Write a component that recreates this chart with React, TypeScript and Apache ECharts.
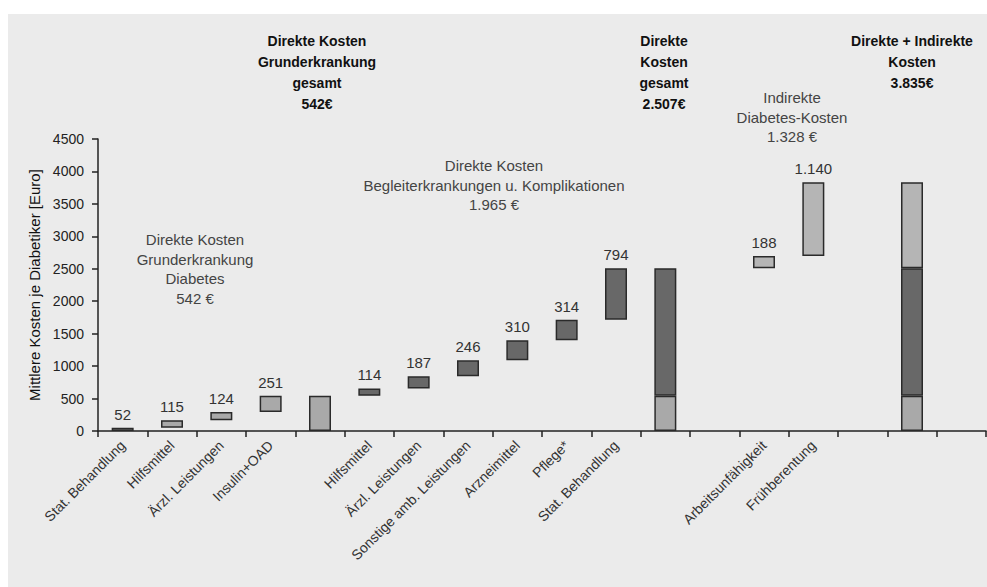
import React, { useEffect, useRef } from "react";
import * as echarts from "echarts";

const categories = [
  "Stat. Behandlung",
  "Hilfsmittel",
  "Ärzl. Leistungen",
  "Insulin+OAD",
  "",
  "Hilfsmittel",
  "Ärzl. Leistungen",
  "Sonstige amb. Leistungen",
  "Arzneimittel",
  "Pflege*",
  "Stat. Behandlung",
  "",
  "",
  "Arbeitsunfähigkeit",
  "Frühberentung",
  "",
  "",
  "",
];

const grundValues = [52, 115, 124, 251];
const begleitValues = [114, 187, 246, 310, 314, 794];
const indirektValues = [188, 1140];

const grundIdx = [0, 1, 2, 3];
const grundTotalIdx = 4;
const begleitIdx = [5, 6, 7, 8, 9, 10];
const direktTotalIdx = 11;
const indirektIdx = [13, 14];
const gesamtIdx = 16;

const yTicks = { min: 0, max: 4500, interval: 500 };

const FONT = "'Liberation Sans Narrow', 'Liberation Sans', 'Noto Sans', sans-serif";
const LIGHT = "#a9a9a9";
const LIGHT2 = "#b5b5b5";
const DARK = "#686868";
const BORDER = "#2a2a2a";

const fmt = (v: number) => String(v).replace(/\B(?=(\d{3})+(?!\d))/g, ".");

export default function App() {
  const ref = useRef<HTMLDivElement>(null);

  useEffect(() => {
    if (!ref.current) return;
    const chart = echarts.init(ref.current, undefined, { renderer: "svg" });
    const n = categories.length;
    const base: any[] = new Array(n).fill("-");
    const light: any[] = new Array(n).fill("-");
    const dark: any[] = new Array(n).fill("-");
    const top: any[] = new Array(n).fill("-");

    const grundSum = grundValues.reduce((a, b) => a + b, 0);
    const begleitSum = begleitValues.reduce((a, b) => a + b, 0);

    let cum = 0;
    grundValues.forEach((v, i) => {
      base[grundIdx[i]] = cum;
      light[grundIdx[i]] = { value: v, label: { show: true } };
      cum += v;
    });
    base[grundTotalIdx] = 0;
    light[grundTotalIdx] = grundSum;
    begleitValues.forEach((v, i) => {
      base[begleitIdx[i]] = cum;
      dark[begleitIdx[i]] = { value: v, label: { show: true } };
      cum += v;
    });
    base[direktTotalIdx] = 0;
    light[direktTotalIdx] = grundSum;
    dark[direktTotalIdx] = begleitSum;
    indirektValues.forEach((v, i) => {
      base[indirektIdx[i]] = cum;
      top[indirektIdx[i]] = { value: v, label: { show: true }, itemStyle: { color: LIGHT2 } };
      cum += v;
    });
    const indirektSum = indirektValues.reduce((a, b) => a + b, 0);
    base[gesamtIdx] = 0;
    light[gesamtIdx] = grundSum;
    dark[gesamtIdx] = begleitSum;
    top[gesamtIdx] = { value: indirektSum, itemStyle: { color: LIGHT2 } };

    const labelStyle = {
      show: false,
      position: "top" as const,
      distance: 6,
      color: "#333",
      fontSize: 15,
      fontFamily: FONT,
      formatter: (p: any) => fmt(p.value),
    };
    const barCommon = {
      type: "bar" as const,
      stack: "w",
      barWidth: 22,
      label: labelStyle,
      itemStyle: { borderColor: BORDER, borderWidth: 1.5 },
    };

    const grayText = (x: number, y: number, text: string) => ({
      type: "text",
      x,
      y,
      style: {
        text,
        align: "center",
        verticalAlign: "top",
        fill: "#444",
        fontSize: 15,
        lineHeight: 19.5,
        fontFamily: FONT,
      },
    });
    const boldText = (x: number, y: number, text: string) => ({
      type: "text",
      x,
      y,
      style: {
        text,
        align: "center",
        verticalAlign: "top",
        fill: "#111",
        fontSize: 14,
        fontWeight: "bold",
        lineHeight: 21,
        fontFamily: FONT,
      },
    });

    chart.setOption({
      animation: false,
      backgroundColor: "transparent",
      grid: { left: 98, right: 1, top: 139, bottom: 156, containLabel: false },
      xAxis: {
        type: "category",
        data: categories,
        axisLine: { lineStyle: { color: "#222", width: 1.5 } },
        axisTick: { show: true, length: 6, lineStyle: { color: "#222", width: 1.5 } },
        axisLabel: {
          interval: 0,
          rotate: 45,
          margin: 12,
          color: "#333",
          fontSize: 14,
          fontFamily: FONT,
        },
      },
      yAxis: {
        type: "value",
        min: yTicks.min,
        max: yTicks.max,
        interval: yTicks.interval,
        name: "Mittlere Kosten je Diabetiker [Euro]",
        nameLocation: "middle",
        nameGap: 55,
        nameTextStyle: { color: "#111", fontSize: 15, fontFamily: FONT },
        axisLine: { show: true, lineStyle: { color: "#222", width: 1.5 } },
        axisTick: { show: true, length: 6, lineStyle: { color: "#222", width: 1.5 } },
        splitLine: { show: false },
        axisLabel: {
          color: "#222",
          fontSize: 14,
          fontFamily: FONT,
          margin: 14,
          formatter: (v: number) => String(v),
        },
      },
      series: [
        {
          ...barCommon,
          name: "base",
          data: base,
          itemStyle: { color: "transparent", borderWidth: 0 },
          label: { show: false },
          silent: true,
        },
        { ...barCommon, name: "light", data: light, itemStyle: { ...barCommon.itemStyle, color: LIGHT } },
        { ...barCommon, name: "dark", data: dark, itemStyle: { ...barCommon.itemStyle, color: DARK } },
        { ...barCommon, name: "top", data: top, itemStyle: { ...barCommon.itemStyle, color: LIGHT2 } },
      ],
      graphic: [
        grayText(195, 230, "Direkte Kosten\nGrunderkrankung\nDiabetes\n542 €"),
        grayText(494, 156, "Direkte Kosten\nBegleiterkrankungen u. Komplikationen\n1.965 €"),
        grayText(792, 88, "Indirekte\nDiabetes-Kosten\n1.328 €"),
        boldText(317, 30, "Direkte Kosten\nGrunderkrankung\ngesamt\n542€"),
        boldText(664, 30, "Direkte\nKosten\ngesamt\n2.507€"),
        boldText(912, 30, "Direkte + Indirekte\nKosten\n3.835€"),
      ],
    });
    return () => chart.dispose();
  }, []);

  return (
    <div style={{ position: "absolute", left: 0, top: 0, width: 987, height: 587, background: "#fff" }}>
      <div style={{ position: "absolute", left: 8, top: 14, width: 979, height: 573, background: "#ebebeb" }} />
      <div ref={ref} style={{ position: "absolute", left: 0, top: 0, width: 987, height: 587 }} />
    </div>
  );
}
